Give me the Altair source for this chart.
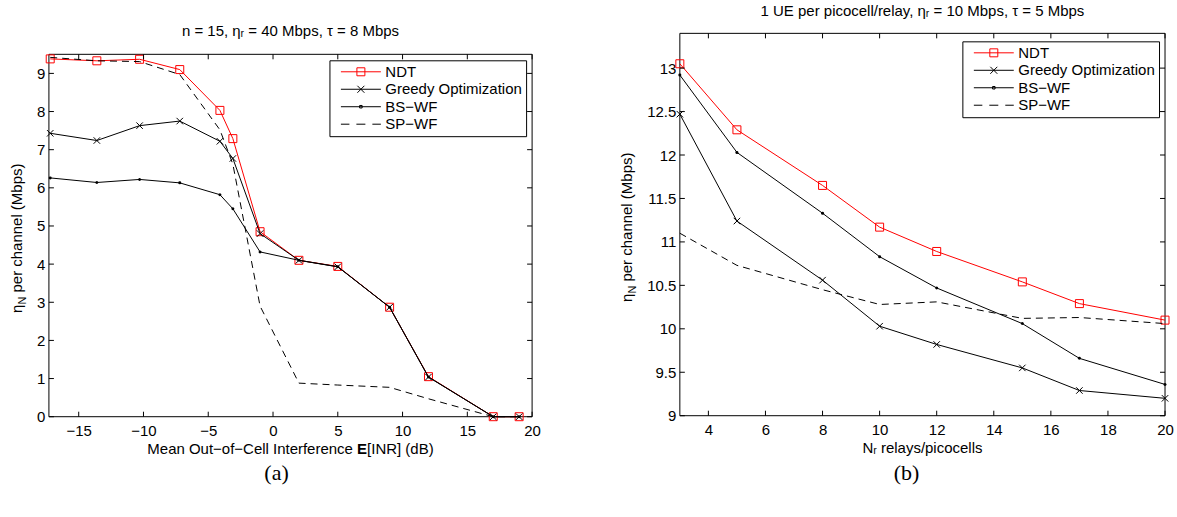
import altair as alt
import pandas as pd

FONT = "Liberation Sans"
SERIF = "Liberation Serif"
FS = 15
SERIES = ["NDT", "Greedy Optimization", "BS−WF", "SP−WF"]

# ---------------- panel (a) ----------------
xa = [-17.2, -13.6, -10.3, -7.2, -4.1, -3.1, -1, 2, 5, 9, 12, 17, 19]
ndt_a = [9.38, 9.33, 9.37, 9.10, 8.03, 7.29, 4.85, 4.10, 3.94, 2.87, 1.05, 0, 0]
greedy_a = [7.43, 7.24, 7.63, 7.75, 7.22, 6.77, 4.80, 4.10, 3.93, 2.87, 1.04, 0, 0]
bswf_a = [6.26, 6.14, 6.22, 6.13, 5.82, 5.45, 4.32, 4.10, 3.93, 2.87, 1.04, 0, 0]
spwf_a = [9.42, 9.33, 9.31, 8.97, 7.52, 6.62, 2.90, 0.88, 0.83, 0.77, 0.47, 0, 0]
xa_ticks = [-15, -10, -5, 0, 5, 10, 15, 20]
ya_ticks = [0, 1, 2, 3, 4, 5, 6, 7, 8, 9]
xa_domain = [-17.3, 20]
ya_domain = [0, 9.5]

# ---------------- panel (b) ----------------
xb = [3, 5, 8, 10, 12, 15, 17, 20]
ndt_b = [13.05, 12.29, 11.65, 11.17, 10.89, 10.54, 10.29, 10.10]
greedy_b = [12.47, 11.24, 10.56, 10.03, 9.82, 9.55, 9.29, 9.20]
bswf_b = [12.92, 12.03, 11.33, 10.83, 10.47, 10.06, 9.66, 9.36]
spwf_b = [11.10, 10.73, 10.45, 10.28, 10.31, 10.12, 10.13, 10.06]
xb_ticks = [4, 6, 8, 10, 12, 14, 16, 18, 20]
yb_ticks = [9, 9.5, 10, 10.5, 11, 11.5, 12, 12.5, 13]
xb_domain = [3, 20]
yb_domain = [9, 13.4]

LEG_PATHS = [
    "M-4,0H4M-0.8,-0.8H0.8V0.8H-0.8Z",
    "M-4,0H4M-0.7,-0.7L0.7,0.7M0.7,-0.7L-0.7,0.7",
    "M-4,0H4M-0.25,-0.25H0.25V0.25H-0.25Z",
    "M-4,0H-2.3M-0.9,0H0.9M2.3,0H4",
]
LEG_COLORS = ["red", "black", "black", "black"]
XMARK = "M-1,-1L1,1M1,-1L-1,1"


def long_df(x, cols):
    rows = []
    for name, vals in zip(SERIES, cols):
        for xv, yv in zip(x, vals):
            rows.append({"x": xv, "y": yv, "series": name})
    return pd.DataFrame(rows)


def text(t, x, y, size=FS, angle=0, align="center", baseline="middle",
         font=FONT, weight="normal"):
    kw = dict(text=t, fontSize=size, align=align, baseline=baseline,
              font=font, fontWeight=weight, color="black")
    if angle:
        kw["angle"] = angle
    return alt.Chart(pd.DataFrame({"d": [0]})).mark_text(**kw).encode(
        x=alt.value(x), y=alt.value(y))


def anchor(x, y):
    return alt.Chart(pd.DataFrame({"d": [0]})).mark_rule(
        strokeOpacity=0, opacity=0).encode(
        x=alt.value(x), y=alt.value(y), y2=alt.value(y + 1))


def ytitle(center, xline):
    bottom = center + 77.5
    a = bottom - 8.3
    return [
        text("η", xline, a, angle=270, align="right", baseline="alphabetic"),
        text("N", xline + 4, a, size=11, angle=270, align="left", baseline="alphabetic"),
        text("per channel (Mbps)", xline, a - 7.9 - 4.2, angle=270,
             align="left", baseline="alphabetic"),
    ]


def panel(df, xdom, ydom, xticks, yticks, w, top, h, legx, legy):
    """top/h: vertical placement of the framed plot area inside the view."""
    xs = alt.Scale(domain=xdom, nice=False, zero=False)
    ys = alt.Scale(domain=ydom, nice=False, zero=False, range=[top + h, top])
    X = alt.X("x:Q", scale=xs, axis=alt.Axis(
        values=xticks, title=None, ticks=False, domain=False, grid=False,
        labelPadding=7, labelFlush=False, labelOverlap=False, format="~g"))
    Y = alt.Y("y:Q", scale=ys, axis=alt.Axis(
        values=yticks, title=None, ticks=False, domain=False, grid=False,
        labelPadding=4, labelOverlap=False, format="~g"))
    base = alt.Chart(df).encode(x=X, y=Y)

    def sel(name):
        return base.transform_filter(alt.datum.series == name)

    layers = [
        alt.Chart(pd.DataFrame({"d": [0]})).mark_rect(
            filled=False, color="black", strokeWidth=1).encode(
            x=alt.value(0), x2=alt.value(w), y=alt.value(top), y2=alt.value(top + h)),
        sel("NDT").mark_line(color="red", strokeWidth=1),
        sel("NDT").mark_point(shape="square", size=64, color="red",
                              strokeWidth=1, filled=False, opacity=1),
        sel("Greedy Optimization").mark_line(color="black", strokeWidth=1),
        sel("Greedy Optimization").mark_point(shape=XMARK, size=42, color="black",
                                              strokeWidth=1, filled=False, opacity=1),
        sel("BS−WF").mark_line(color="black", strokeWidth=1),
        sel("BS−WF").mark_circle(size=9, color="black", opacity=1),
        sel("SP−WF").mark_line(color="black", strokeWidth=1, strokeDash=[7, 5]),
    ]
    leg = alt.Legend(title=None, orient="none", legendX=legx, legendY=legy, padding=4,
                     fillColor="white", strokeColor="black", labelFont=FONT,
                     labelFontSize=FS, labelColor="black", labelAlign="left",
                     symbolSize=100, symbolStrokeWidth=1, symbolOpacity=1,
                     symbolOffset=20, labelOffset=17, rowPadding=1.5, labelLimit=400)
    layers.append(base.mark_point(opacity=0, filled=False).encode(
        shape=alt.Shape("series:N", scale=alt.Scale(domain=SERIES, range=LEG_PATHS), legend=leg),
        color=alt.Color("series:N", scale=alt.Scale(domain=SERIES, range=LEG_COLORS), legend=leg),
    ))
    xt = alt.Chart(pd.DataFrame({"x": xticks}))
    yt = alt.Chart(pd.DataFrame({"y": yticks}))
    layers += [
        xt.mark_rule(color="black", strokeWidth=1).encode(
            x=X, y=alt.value(top + h), y2=alt.value(top + h - 5)),
        xt.mark_rule(color="black", strokeWidth=1).encode(
            x=X, y=alt.value(top), y2=alt.value(top + 5)),
        yt.mark_rule(color="black", strokeWidth=1).encode(
            y=Y, x=alt.value(0), x2=alt.value(5)),
        yt.mark_rule(color="black", strokeWidth=1).encode(
            y=Y, x=alt.value(w), x2=alt.value(w - 5)),
    ]
    return layers


VIEW = alt.ViewBackground(stroke="transparent")
CAP_Y = 440

# ---- left chart ----
WA, OFFA, HA = 484, 21, 363
df_a = long_df(xa, [ndt_a, greedy_a, bswf_a, spwf_a])
la = panel(df_a, xa_domain, ya_domain, xa_ticks, ya_ticks, WA, OFFA, HA, 281, 27)
t_first, t_e, t_last = 210.1, 10.0, 66.7
start = WA / 2 - (t_first + t_e + t_last) / 2
ex = start + t_first
la += [
    text("n = 15, ηᵣ = 40 Mbps, τ = 8 Mbps", WA / 2, OFFA - 23),
    text("Mean Out−of−Cell Interference", ex - 4.2, OFFA + HA + 32, align="right"),
    text("E", ex, OFFA + HA + 32, align="left", weight="bold"),
    text("[INR] (dB)", ex + t_e, OFFA + HA + 32, align="left"),
    text("(a)", 228, CAP_Y, size=22, font=SERIF),
    anchor(-48, -32),
    anchor(WA + 20, -32),
]
la += ytitle(OFFA + HA / 2, -27)
left = alt.layer(*la).properties(width=WA, height=OFFA + HA, view=VIEW)

# ---- right chart ----
WB, OFFB, HB = 486, 0, 383
df_b = long_df(xb, [ndt_b, greedy_b, bswf_b, spwf_b])
lb = panel(df_b, xb_domain, yb_domain, xb_ticks, yb_ticks, WB, OFFB, HB, 283, 8)
lb += [
    text("1 UE per picocell/relay, ηᵣ = 10 Mbps, τ = 5 Mbps", WB / 2, OFFB - 22),
    text("Nᵣ relays/picocells", WB / 2, OFFB + HB + 32),
    text("(b)", 227, CAP_Y, size=22, font=SERIF),
    anchor(-78, -32),
]
lb += ytitle(OFFB + HB / 2, -48)
right = alt.layer(*lb).properties(width=WB, height=OFFB + HB, view=VIEW)

chart = alt.hconcat(left, right, spacing=48).resolve_scale(
    color="independent", shape="independent").resolve_legend(
    color="independent", shape="independent").properties(
    padding=0, background="white").configure_axis(
    labelFont=FONT, labelFontSize=FS, labelColor="black")

chart.save("out.html", embed_options={"renderer": "svg", "actions": False})
